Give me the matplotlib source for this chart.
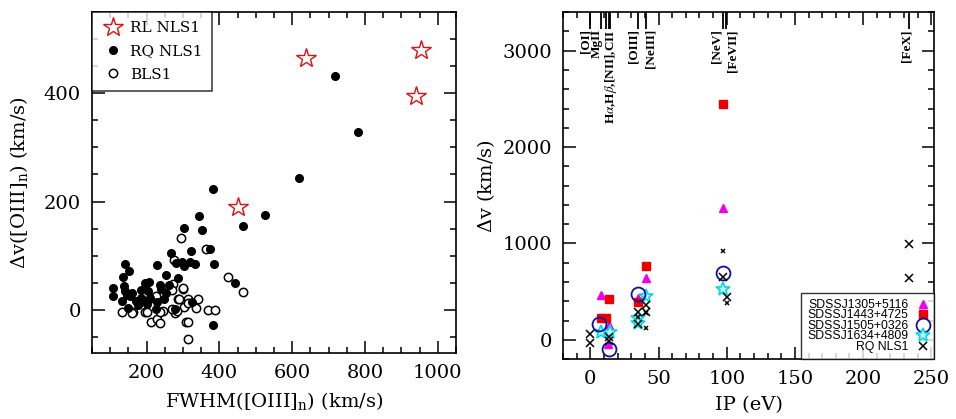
import numpy as np
import matplotlib
matplotlib.use("Agg")
from matplotlib import pyplot as plt
from matplotlib.ticker import MultipleLocator

# ---- left panel data : FWHM([OIII]n) vs dv([OIII]n)
rl_fwhm = [451, 637, 941, 953]
rl_dv = [190, 465, 395, 480]

rq_fwhm = [108, 109, 134, 142, 153, 132, 138, 141, 145, 148, 155, 170, 177, 182, 186,
           184, 195, 206, 204, 209, 227, 229, 236, 241, 254, 249, 253, 268, 285, 279,
           282, 296, 302, 318, 334, 322, 324, 351, 375, 386, 382, 442, 303, 344, 383,
           465, 525, 620, 717, 782, 160, 200, 190, 230, 262]
rq_dv = [40, 25, 60, 85, 71, 17, 43, 35, 28, 4, 26, 17, 9, 14, 22,
         36, 50, 52, 34, 22, 1, 82, 46, 38, 65, 20, 31, 105, 58, 1,
         86, 88, 80, 89, 84, 108, 15, 148, 113, 85, -28, 50, 151, 173, 224,
         154, 176, 244, 432, 329, 30, 10, 18, 15, 45]

bls_fwhm = [294, 362, 276, 424, 465, 299, 272, 269, 286, 306, 315, 341, 302, 336, 370,
            388, 132, 162, 197, 213, 228, 237, 246, 279, 284, 309, 314, 313, 213, 225,
            236, 200, 300, 314, 290, 159, 271]
bls_dv = [133, 112, 91, 60, 33, 39, 48, 37, 20, 15, 20, 19, 5, 3, 0,
          0, -5, -5, -4, -23, -17, -25, -3, -6, -2, -23, -23, -55, 21, 26,
          -5, -5, 41, 13, 20, -6, 1]

# ---- right panel data : IP vs dv
tri_ip = [7.6, 13.6, 13.0, 35.1, 41.0, 97.1]
tri_dv = [460, 155, -45, 432, 646, 1365]
sq_ip = [7.6, 11.5, 13.9, 35.1, 41.0, 97.1]
sq_dv = [231, 225, 425, 397, 765, 2450]
circ_ip = [6.6, 13.4, 35.1, 97.1]
circ_dv = [169, -93, 473, 690]
star_ip = [7.8, 14.4, 35.1, 35.1, 41.0, 97.1]
star_dv = [86, 80, 228, 170, 459, 532]
rqx_ip = [0, 0, 14.0, 14.0, 35.1, 35.1, 41.0, 41.0, 97.1, 100.0, 233.6, 233.6]
rqx_dv = [59, -34, 34, -10, 293, 163, 363, 293, 650, 449, 990, 640]
rqx_small_ip = [97.1, 100.0, 41.0, 41.0, 35.1]
rqx_small_dv = [925, 380, 124, 280, 240]

line_names = ["[OI]", "MgII", "CII", "H$\\alpha$,H$\\beta$,[NII],CII", "[NII]",
              "[OIII]", "[NeIII]", "[NeV]", "[FeVII]", "[FeX]"]
line_ip = [0.0, 7.6, 11.3, 13.6, 14.5, 35.1, 41.0, 97.1, 99.1, 233.6]
# label offset in eV (None = no label of its own)
line_off = [-3.8, -2.6, None, 1.3, None, -3.2, 2.8, -4.3, 5.3, -1.5]

serif = "DejaVu Serif"
plt.rcParams["font.family"] = serif
plt.rcParams["mathtext.fontset"] = "dejavuserif"

fig = plt.figure(figsize=(9.56, 4.19), dpi=100)
ax1 = fig.add_axes([0.0962, 0.1575, 0.3808, 0.8135])
ax2 = fig.add_axes([0.589, 0.143, 0.388, 0.828])

for ax in (ax1, ax2):
    ax.tick_params(which="both", direction="in", top=True, right=True, labelsize=14, width=1.1)
    ax.tick_params(which="major", length=9, pad=8)
    ax.tick_params(which="minor", length=4.5)
    for s in ax.spines.values():
        s.set_linewidth(1.2)

# left
ax1.plot(rq_fwhm, rq_dv, "o", color="black", ms=5.5, label="RQ NLS1", zorder=3)
ax1.plot(bls_fwhm, bls_dv, "o", mfc="white", mec="black", mew=1.1, ms=6, label="BLS1", zorder=2)
ax1.plot(rl_fwhm, rl_dv, "*", mfc="white", mec="#dd1111", mew=1.0, ms=15, label="RL NLS1", zorder=4)
ax1.set_xlim(50, 1050)
ax1.set_ylim(-80, 550)
ax1.xaxis.set_major_locator(MultipleLocator(200))
ax1.xaxis.set_minor_locator(MultipleLocator(50))
ax1.yaxis.set_major_locator(MultipleLocator(200))
ax1.yaxis.set_minor_locator(MultipleLocator(50))
ax1.set_xlabel("FWHM([OIII]$_\\mathrm{n}$) (km/s)", fontsize=14, labelpad=6)
ax1.set_ylabel("$\\Delta$v([OIII]$_\\mathrm{n}$) (km/s)", fontsize=14, labelpad=10)
h, l = ax1.get_legend_handles_labels()
leg = ax1.legend([h[2], h[0], h[1]], [l[2], l[0], l[1]], loc="upper left", fontsize=11,
                 frameon=True, fancybox=False, borderaxespad=0, edgecolor="black",
                 handletextpad=0.3, handlelength=1.6, labelspacing=0.6, borderpad=0.6)
leg.get_frame().set_linewidth(1.1)

# right
ax2.plot(tri_ip, tri_dv, "^", color="#ee00ee", ms=5.5, label="SDSSJ1305+5116", zorder=3)
ax2.plot(sq_ip, sq_dv, "s", color="#ee0000", ms=5.5, label="SDSSJ1443+4725", zorder=3)
ax2.plot(circ_ip, circ_dv, "o", mfc="none", mec="#1010a0", mew=1.3, ms=10, label="SDSSJ1505+0326", zorder=4)
ax2.plot(star_ip, star_dv, "*", mfc="#bff5f5", mec="#00d8e8", mew=1.2, ms=10, label="SDSSJ1634+4809", zorder=3)
ax2.plot(rqx_ip, rqx_dv, "x", color="black", ms=6, mew=1.1, label="RQ NLS1", zorder=5)
ax2.plot(rqx_small_ip, rqx_small_dv, "x", color="black", ms=3.5, mew=1.1, zorder=5)
ax2.set_xlim(-20, 252)
ax2.set_ylim(-200, 3400)
ax2.xaxis.set_major_locator(MultipleLocator(50))
ax2.xaxis.set_minor_locator(MultipleLocator(10))
ax2.yaxis.set_major_locator(MultipleLocator(1000))
ax2.yaxis.set_minor_locator(MultipleLocator(200))
ax2.set_xlabel("IP (eV)", fontsize=14, labelpad=6)
ax2.set_ylabel("$\\Delta$v (km/s)", fontsize=14, labelpad=4)

ax2.vlines(line_ip, 3225, 3400, color="black", lw=1.3)
for name, ip, off in zip(line_names, line_ip, line_off):
    if off is None:
        continue
    ax2.text(ip + off, 3225, name, rotation=90, ha="center", va="top",
             fontsize=9.5, fontweight="bold", family="Liberation Serif",
             math_fontfamily="stix")

leg2 = ax2.legend(loc="lower right", prop={"family": "Liberation Sans", "size": 8.8},
                  markerfirst=False, frameon=True, fancybox=False, borderaxespad=0,
                  edgecolor="black", labelspacing=-0.12, handletextpad=0.8,
                  handlelength=0.8, borderpad=0.5)
leg2.get_frame().set_linewidth(1.0)

fig.savefig("out.png", dpi=100)
